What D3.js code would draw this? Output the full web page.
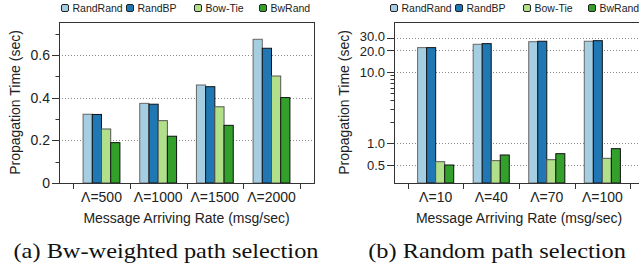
<!DOCTYPE html>
<html>
<head>
<meta charset="utf-8">
<script src="https://cdn.jsdelivr.net/npm/d3@7"></script>
<style>
  html, body { margin: 0; padding: 0; background: #fff; }
  svg { display: block; }
  text { font-family: "Liberation Sans", Arial, Helvetica, sans-serif; fill: #222; }
  text.cap { font-family: "Liberation Serif", "Times New Roman", Times, serif; fill: #111; }
</style>
</head>
<body>
<svg id="chart" width="639" height="275"></svg>
<script>
// ---------- data ----------
const seriesNames = ["RandRand", "RandBP", "Bow-Tie", "BwRand"];
const seriesColors = ["#a6cee3", "#1f78b4", "#b2df8a", "#33a02c"];
const seriesStrokes = ["#666666", "#111111", "#555555", "#111111"];

// (a) Bw-weighted path selection
const catsA = ["Λ=500", "Λ=1000", "Λ=1500", "Λ=2000"];
const randRandA = [0.322, 0.373, 0.459, 0.673];
const randBPA   = [0.321, 0.369, 0.451, 0.631];
const bowTieA   = [0.253, 0.292, 0.357, 0.501];
const bwRandA   = [0.189, 0.219, 0.270, 0.400];
const yTicksA = [0, 0.2, 0.4, 0.6];
const yTickLabelsA = ["0", "0.2", "0.4", "0.6"];
const yMinorA = [0.1, 0.3, 0.5, 0.7];

// (b) Random path selection
const catsB = ["Λ=10", "Λ=40", "Λ=70", "Λ=100"];
const randRandB = [21.9, 24.4, 26.5, 26.9];
const randBPB   = [21.9, 24.9, 26.9, 27.4];
const bowTieB   = [0.556, 0.575, 0.593, 0.62];
const bwRandB   = [0.50, 0.69, 0.72, 0.846];
const yTicksB = [0.5, 1, 10, 20, 30];
const yTickLabelsB = ["0.5", "1.0", "10.0", "20.0", "30.0"];
const yMinorB = [2, 3, 4, 5, 6, 7, 8, 9];

const xTitle = "Message Arriving Rate (msg/sec)";
const yTitle = "Propagation Time (sec)";
const captions = ["(a) Bw-weighted path selection", "(b) Random path selection"];

// ---------- drawing ----------
const svg = d3.select("#chart");
const TOP = 22, BOTTOM = 183;

function drawPanel(cfg) {
  const g = svg.append("g");
  const x = d3.scaleBand().domain(cfg.cats).range([cfg.x0, cfg.x1]).paddingInner(0).paddingOuter(0.25);
  const groupW = x.bandwidth() * 0.65;
  const x1 = d3.scaleBand().domain(seriesNames).range([0, groupW]).padding(0);
  const y = cfg.y;

  // gridlines
  g.append("g").selectAll("line").data(cfg.ticks).join("line")
    .attr("x1", cfg.x0).attr("x2", cfg.x1)
    .attr("y1", d => Math.round(y(d)) + 0.5).attr("y2", d => Math.round(y(d)) + 0.5)
    .attr("stroke", "#8a8a8a").attr("stroke-width", 1).attr("stroke-dasharray", "1,2");

  // bars
  const values = cfg.values;
  const rows = [];
  cfg.cats.forEach((c, i) => seriesNames.forEach((s, j) => rows.push({ c, s, j, v: values[j][i] })));
  g.append("g").selectAll("rect").data(rows).join("rect")
    .attr("x", d => x(d.c) + (x.bandwidth() - groupW) / 2 + x1(d.s))
    .attr("width", x1.bandwidth())
    .attr("y", d => y(d.v))
    .attr("height", d => BOTTOM - y(d.v))
    .attr("fill", d => seriesColors[d.j])
    .attr("stroke", d => seriesStrokes[d.j])
    .attr("stroke-width", 1);

  // frame
  g.append("rect")
    .attr("x", cfg.x0 + 0.5).attr("y", TOP + 0.5)
    .attr("width", cfg.x1 - cfg.x0).attr("height", BOTTOM - TOP)
    .attr("fill", "none").attr("stroke", "#333").attr("stroke-width", 1);

  // y major ticks and labels
  const ya = g.append("g");
  ya.selectAll("line.maj").data(cfg.ticks).join("line").attr("class", "maj")
    .attr("x1", cfg.x0 - 7).attr("x2", cfg.x0 + 0.5)
    .attr("y1", d => Math.round(y(d)) + 0.5).attr("y2", d => Math.round(y(d)) + 0.5)
    .attr("stroke", "#333");
  ya.selectAll("line.min").data(cfg.minor).join("line").attr("class", "min")
    .attr("x1", cfg.x0 - 3.5).attr("x2", cfg.x0 + 0.5)
    .attr("y1", d => Math.round(y(d)) + 0.5).attr("y2", d => Math.round(y(d)) + 0.5)
    .attr("stroke", "#333");

  // label centres, pushed apart slightly where two labels would touch
  const minGap = cfg.tickSize * 1.16;
  const centres = cfg.ticks.map(t => y(t));
  const order = d3.range(centres.length).sort((a, b) => centres[b] - centres[a]);
  for (let k = 1; k < order.length; k++) {
    const lo = order[k - 1], hi = order[k];
    const gap = centres[lo] - centres[hi];
    if (gap < minGap) {
      const push = (minGap - gap) / 2;
      centres[lo] += push; centres[hi] -= push;
    }
  }
  ya.selectAll("text").data(cfg.ticks).join("text")
    .attr("x", cfg.x0 - 9).attr("y", (d, i) => centres[i] + cfg.tickSize * 0.36)
    .attr("text-anchor", "end").attr("font-size", cfg.tickSize)
    .text((d, i) => cfg.tickLabels[i]);

  // x separator ticks
  const edges = cfg.cats.map(c => x(c)).concat([x(cfg.cats[cfg.cats.length - 1]) + x.bandwidth()]);
  g.append("g").selectAll("line").data(edges).join("line")
    .attr("x1", d => Math.round(d) + 0.5).attr("x2", d => Math.round(d) + 0.5)
    .attr("y1", BOTTOM).attr("y2", BOTTOM + 6)
    .attr("stroke", "#333");
  g.append("g").selectAll("text").data(cfg.cats).join("text")
    .attr("x", d => x(d) + x.bandwidth() / 2).attr("y", 202)
    .attr("text-anchor", "middle").attr("font-size", 14)
    .text(d => d);

  // axis titles
  g.append("text")
    .attr("x", (cfg.x0 + cfg.x1) / 2).attr("y", 223)
    .attr("text-anchor", "middle").attr("font-size", 14)
    .text(xTitle);
  g.append("text")
    .attr("transform", `translate(${cfg.yTitleX},${(TOP + BOTTOM) / 2}) rotate(-90)`)
    .attr("text-anchor", "middle").attr("font-size", 14)
    .text(yTitle);

  // legend
  const offs = [0, 65, 133, 198];
  const lg = g.append("g");
  seriesNames.forEach((s, j) => {
    const lx = cfg.legendX + offs[j];
    lg.append("rect").attr("x", lx + 0.5).attr("y", 4.5).attr("width", 7).attr("height", 7)
      .attr("rx", 1.5).attr("fill", seriesColors[j]).attr("stroke", "#222").attr("stroke-width", 1);
    lg.append("text").attr("x", lx + 11.5).attr("y", 12).attr("font-size", 10.5).text(s);
  });

  // caption
  svg.append("text").attr("class", "cap")
    .attr("transform", `translate(${cfg.capX},258) scale(1.16,1)`)
    .attr("text-anchor", "middle").attr("font-size", 21)
    .text(cfg.caption);
}

drawPanel({
  cats: catsA, x0: 59, x1: 314,
  y: d3.scaleLinear().domain([0, 0.754]).range([BOTTOM, TOP]),
  values: [randRandA, randBPA, bowTieA, bwRandA],
  ticks: yTicksA, tickLabels: yTickLabelsA, minor: yMinorA, tickSize: 14,
  yTitleX: 20, legendX: 61, capX: 166, caption: captions[0]
});

drawPanel({
  cats: catsB, x0: 394, x1: 644,
  y: d3.scaleLog().domain([0.28, 50]).range([BOTTOM, TOP]),
  values: [randRandB, randBPB, bowTieB, bwRandB],
  ticks: yTicksB, tickLabels: yTickLabelsB, minor: yMinorB, tickSize: 13,
  yTitleX: 349, legendX: 390, capX: 497, caption: captions[1]
});
</script>
</body>
</html>
